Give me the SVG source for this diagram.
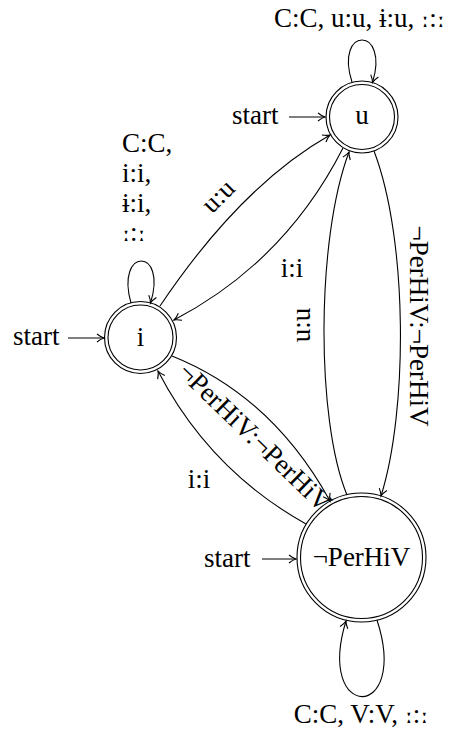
<svg xmlns="http://www.w3.org/2000/svg" width="449" height="733" viewBox="0 0 449 733">
<defs>
<style>
text{font-family:"Liberation Serif","DejaVu Serif",serif;font-size:27px;fill:#000}
.ipa{font-family:"DejaVu Serif","Liberation Serif",serif;font-size:24px}
.st{fill:none;stroke:#000;stroke-width:1.1}
.e{fill:none;stroke:#000;stroke-width:1.1;marker-end:url(#arr)}
.m{text-anchor:middle}
</style>
<marker id="arr" markerUnits="userSpaceOnUse" markerWidth="12" markerHeight="12" viewBox="-9 -6 10 12" refX="0" refY="0" orient="auto">
<path d="M-7,-4 Q-3,-0.8 0,0 Q-3,0.8 -7,4" fill="none" stroke="#000" stroke-width="1.1"/>
</marker>
</defs>
<rect width="449" height="733" fill="#fff"/>

<g id="node-u">
<circle class="st" cx="362" cy="117" r="36"/>
<circle class="st" cx="362" cy="117" r="32.5"/>
<text class="m" x="362" y="124">u</text>
</g>
<g id="node-i">
<circle class="st" cx="140.5" cy="337.5" r="36"/>
<circle class="st" cx="140.5" cy="337.5" r="32.5"/>
<text class="m" x="140.5" y="346">i</text>
</g>
<g id="node-notPerHiV">
<circle class="st" cx="361.5" cy="557.5" r="64.5"/>
<circle class="st" cx="361.5" cy="557.5" r="61"/>
<text class="m" x="361.5" y="566">¬PerHiV</text>
</g>

<g id="connectors">
<!-- start arrows -->
<text x="232" y="124">start</text>
<line class="e" x1="289" y1="117" x2="325" y2="117"/>
<text x="13" y="345">start</text>
<line class="e" x1="68" y1="338" x2="104" y2="338"/>
<text x="204" y="567">start</text>
<line class="e" x1="262" y1="559" x2="296" y2="559"/>

<!-- self loops -->
<path class="e" d="M352,82 C334,26 390,26 372.5,82.5"/>
<text x="274" y="27">C:C, u:u, ɨ:u, <tspan class="ipa">ː</tspan>:<tspan class="ipa">ː</tspan></text>
<path class="e" d="M131,303 C115,247 168,247 150.5,303"/>
<text x="122" y="152">C:C,</text>
<text x="122" y="182">i:i,</text>
<text x="122" y="212">ɨ:i,</text>
<text x="122" y="241"><tspan class="ipa">ː</tspan>:<tspan class="ipa">ː</tspan></text>
<path class="e" d="M377,620 C410,722 315,722 346,621"/>
<text class="m" x="361" y="723">C:C, V:V, <tspan class="ipa">ː</tspan>:<tspan class="ipa">ː</tspan></text>

<!-- i -> u -->
<path class="e" d="M160,306 Q241,185.5 330,135"/>
<text class="m" transform="translate(220,198) rotate(-45)" y="6">u:u</text>
<!-- u -> i -->
<path class="e" d="M343,148 Q285,262 174,320"/>
<text class="m" x="292" y="277">i:i</text>
<!-- i -> notPerHiV -->
<path class="e" d="M172,356 Q272,396 330,501"/>
<text class="m" transform="translate(255,437) rotate(44)" y="9">¬PerHiV:¬PerHiV</text>
<!-- notPerHiV -> i -->
<path class="e" d="M306,524 Q209,469.7 158,371"/>
<text class="m" x="199" y="488">i:i</text>
<!-- u -> notPerHiV -->
<path class="e" d="M374,151 C408,240 408,410 381,496"/>
<text class="m" transform="translate(419,326) rotate(90)" y="9">¬PerHiV:¬PerHiV</text>
<!-- notPerHiV -> u -->
<path class="e" d="M347,495 C316,420 316,240 349,152"/>
<text class="m" transform="translate(304,325) rotate(-90)" y="6">u:u</text>
</g>
</svg>
